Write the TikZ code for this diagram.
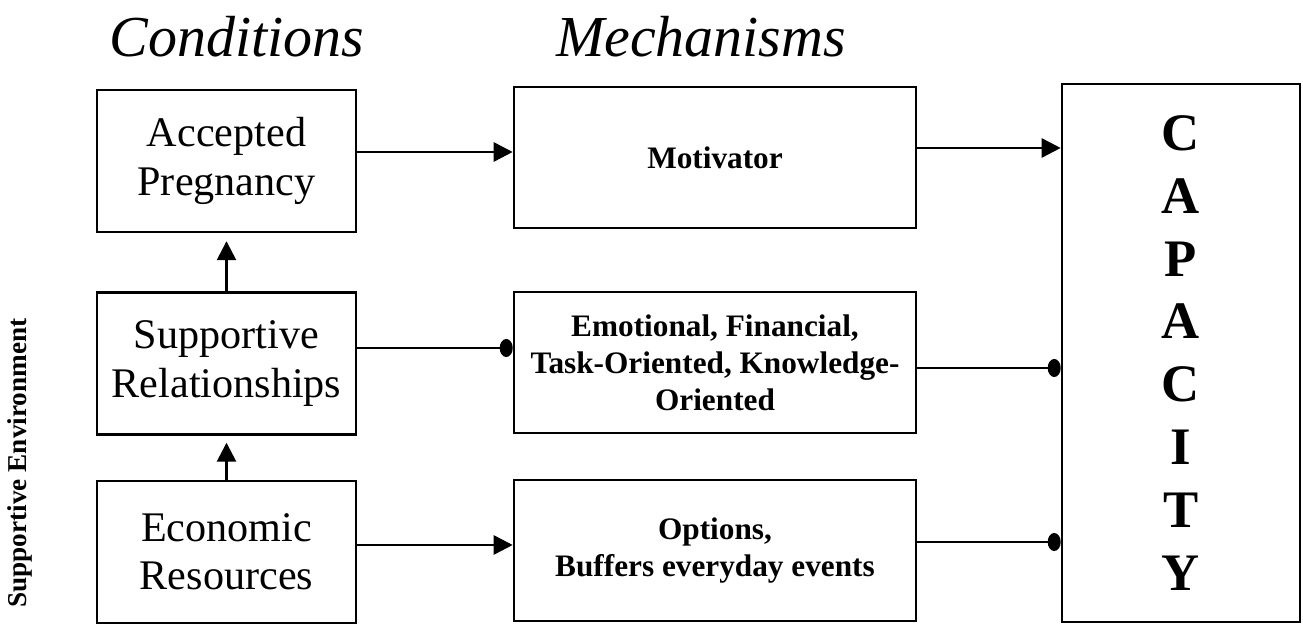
\documentclass[tikz,border=0pt]{standalone}
\usepackage{fontspec}
\setmainfont{Liberation Serif}
\usetikzlibrary{arrows.meta, positioning}
\tikzset{
  condbox/.style={
    draw,
    line width=1.5pt,
    minimum width=5.18cm,
    minimum height=2.84cm,
    align=center,
    font=\fontsize{24}{27.5}\selectfont
  },
  mechbox/.style={
    draw,
    line width=1.5pt,
    minimum width=8.04cm,
    minimum height=2.82cm,
    inner sep=2pt,
    align=center,
    font=\fontsize{17.8}{21}\selectfont\bfseries
  },
  capbox/.style={
    draw,
    line width=1.5pt,
    minimum width=4.76cm,
    minimum height=10.76cm,
    align=center,
    font=\fontsize{30}{35.8}\selectfont\bfseries
  },
  headline/.style={anchor=base, font=\fontsize{33}{36}\selectfont\itshape},
  envlabel/.style={rotate=90, font=\fontsize{15.5}{18}\selectfont\bfseries},
  tri/.style={-{Triangle[length=0.38cm,width=0.38cm]}, line width=1.5pt},
  blob/.style={-{Circle[length=0.26cm,width=0.36cm]}, line width=1.5pt}
}
\begin{document}
\begin{tikzpicture}[x=0.02cm,y=-0.02cm]
    \useasboundingbox (0,0) rectangle (1303,624);
    \node[headline] (cond) at (237,57) {Conditions};
    \node[headline] (mech) at (701,57) {Mechanisms};

    \node[condbox] (acc) at (226.5,161) {Accepted\\Pregnancy};
    \node[condbox] (sup) at (226.5,363.5) {Supportive\\Relationships};
    \node[condbox] (eco) at (226.5,552) {Economic\\Resources};

    \node[mechbox] (mot) at (715,157.5) {Motivator};
    \node[mechbox] (kind) at (715,362.5) {Emotional, Financial,\\Task-Oriented, Knowledge-\\Oriented};
    \node[mechbox] (opt) at (715,550.5) {Options,\\Buffers everyday events};

    \node[capbox] (cap) at (1181,353) {C\\A\\P\\A\\C\\I\\T\\Y};
    \node[envlabel] (env) at (20,463) {Supportive Environment};

    \draw[tri] (sup.north) -- ++(0,-50);
    \draw[tri] (eco.north) -- ++(0,-37);

    \draw[tri] (acc.east |- 0,152) -- (mot.west |- 0,152);
    \draw[tri] (mot.east |- 0,148) -- (cap.west |- 0,148);
    \draw[blob] (sup.east |- 0,348) -- (kind.west |- 0,348);
    \draw[blob] (kind.east |- 0,368) -- (cap.west |- 0,368);
    \draw[tri] (eco.east |- 0,545) -- (opt.west |- 0,545);
    \draw[blob] (opt.east |- 0,542) -- (cap.west |- 0,542);
  \end{tikzpicture}
\end{document}
